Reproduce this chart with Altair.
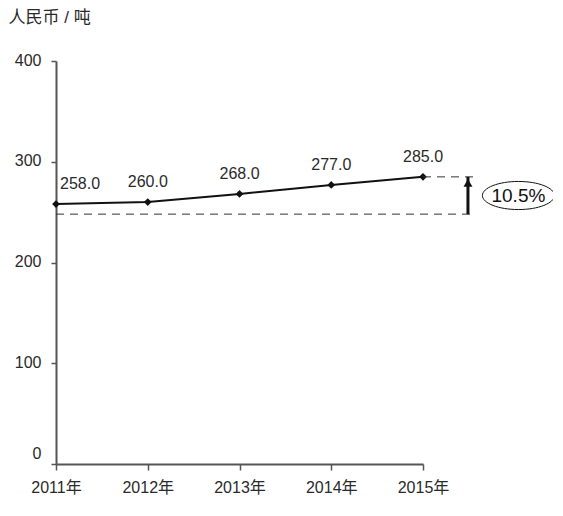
import altair as alt
import pandas as pd

years = [2011, 2012, 2013, 2014, 2015]
prices = [258.0, 260.0, 268.0, 277.0, 285.0]
base_value = 248.0
growth_label = "10.5%"
y_title = "人民币 / 吨"

FONT = "Liberation Sans, Arial, Noto Sans CJK SC"
X_END = 2015.57
X_ARROW = 2015.49
X_BADGE = 2016.04

df = pd.DataFrame({"year": years, "price": prices})
df["label"] = [f"{p:.1f}" for p in prices]

x_scale = alt.Scale(domain=[2011, 2015], nice=False, zero=False)
y_scale = alt.Scale(domain=[0, 400], nice=False)

x_enc = alt.X("year:Q", scale=x_scale, axis=alt.Axis(
    values=years, labelExpr="datum.value + '年'", title=None, grid=False,
    tickSize=6, labelPadding=9, labelFontSize=16, labelColor="#2a2a2a",
    labelFont=FONT, domainColor="#555", domainWidth=2, tickColor="#555",
    tickWidth=1.5, labelFlush=False))
y_enc = alt.Y("price:Q", scale=y_scale, axis=alt.Axis(
    values=[0, 100, 200, 300, 400], title=y_title, titleAngle=0,
    titleAlign="left", titleBaseline="middle", titleX=-48, titleY=-44,
    titleFontSize=17, titleFontWeight="normal", titleFont=FONT, titleColor="#2a2a2a",
    grid=False, tickSize=5, labelPadding=10, labelFontSize=16, labelColor="#2a2a2a",
    labelFont=FONT, domainColor="#555", domainWidth=2, tickColor="#555",
    tickWidth=1.5,
    labelOffset={"condition": {"test": "datum.value == 0", "value": -11}, "value": -1}))

line = alt.Chart(df).mark_line(color="#111", strokeWidth=2).encode(x=x_enc, y=y_enc)
pts = alt.Chart(df).mark_point(shape="diamond", filled=True, color="#111", size=60, opacity=1).encode(
    x=alt.X("year:Q", scale=x_scale), y=alt.Y("price:Q", scale=y_scale))

labels = alt.Chart(df).transform_filter("datum.year > 2011").mark_text(
    dy=-20, fontSize=16, font=FONT, color="#2a2a2a").encode(
    x=alt.X("year:Q", scale=x_scale), y=alt.Y("price:Q", scale=y_scale), text="label:N")
label_first = alt.Chart(df).transform_filter("datum.year == 2011").mark_text(
    dy=-20, dx=4, align="left", fontSize=16, font=FONT, color="#2a2a2a").encode(
    x=alt.X("year:Q", scale=x_scale), y=alt.Y("price:Q", scale=y_scale), text="label:N")

dash_df = pd.DataFrame({
    "x1": [2011, 2015], "x2": [X_END, X_END], "v": [base_value, prices[-1]]})
dashes = alt.Chart(dash_df).mark_rule(color="#333", strokeWidth=1, strokeDash=[8, 6]).encode(
    x=alt.X("x1:Q", scale=x_scale), x2="x2:Q", y=alt.Y("v:Q", scale=y_scale))

arrow_df = pd.DataFrame({"x": [X_ARROW], "lo": [base_value], "hi": [prices[-1]]})
arrow_shaft = alt.Chart(arrow_df).mark_rule(color="#111", strokeWidth=3).encode(
    x=alt.X("x:Q", scale=x_scale), y=alt.Y("lo:Q", scale=y_scale), y2=alt.Y2("hi:Q"))
arrow_head = alt.Chart(arrow_df).mark_point(
    shape="triangle-up", filled=True, color="#111", size=80, opacity=1, yOffset=6).encode(
    x=alt.X("x:Q", scale=x_scale), y=alt.Y("hi:Q", scale=y_scale))

badge_df = pd.DataFrame({"x": [X_BADGE], "v": [(base_value + prices[-1]) / 2], "t": [growth_label]})
ellipse = alt.Chart(badge_df).mark_point(
    shape="M -1 0 A 1 0.39 0 1 0 1 0 A 1 0.39 0 1 0 -1 0 Z",
    filled=False, color="#111", strokeWidth=1, size=5184, opacity=1).encode(
    x=alt.X("x:Q", scale=x_scale), y=alt.Y("v:Q", scale=y_scale))
badge_text = alt.Chart(badge_df).mark_text(fontSize=19, font=FONT, color="#111").encode(
    x=alt.X("x:Q", scale=x_scale), y=alt.Y("v:Q", scale=y_scale), text="t:N")

chart = alt.layer(line, pts, labels, label_first, dashes, arrow_shaft, arrow_head,
                  ellipse, badge_text).properties(
    width=367, height=403,
    autosize=alt.AutoSizeParams(type="none"),
    padding={"left": 48, "top": 53, "right": 130, "bottom": 44},
    background="white",
).configure_view(stroke=None)

chart.save("out.html", embed_options={"renderer": "svg", "actions": False})
